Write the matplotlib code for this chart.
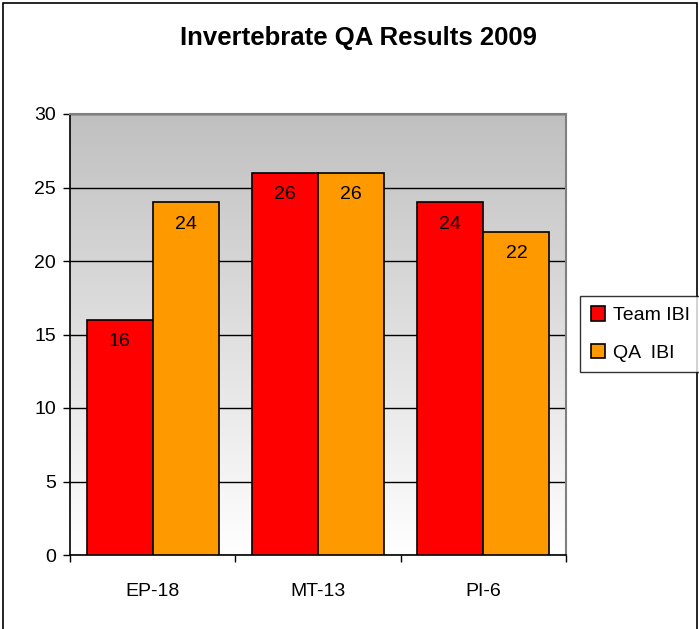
import numpy as np
import matplotlib.pyplot as plt
from matplotlib.colors import LinearSegmentedColormap
from matplotlib.patches import Rectangle

plt.rcParams['font.family'] = ['Liberation Sans', 'DejaVu Sans']

sites = ['EP-18', 'MT-13', 'PI-6']
team_ibi = [16, 26, 24]
qa_ibi = [24, 26, 22]
series_names = ['Team IBI', 'QA  IBI']
colors = ['#ff0000', '#ff9900']

fig = plt.figure(figsize=(6.99, 6.29), dpi=100)
ax = fig.add_axes([70 / 699, 74 / 629, 496 / 699, 441 / 629])

# gradient plot background
grad = LinearSegmentedColormap.from_list('bg', ['#ffffff', '#c0c0c0'])
ax.imshow(np.linspace(0, 1, 256).reshape(-1, 1), cmap=grad, aspect='auto',
          extent=[-0.5, 2.5, 0, 30], origin='lower', zorder=0)

x = np.arange(len(sites))
w = 0.4
b1 = ax.bar(x - w / 2, team_ibi, w, color=colors[0], edgecolor='black',
            linewidth=1.2, label=series_names[0], zorder=3)
b2 = ax.bar(x + w / 2, qa_ibi, w, color=colors[1], edgecolor='black',
            linewidth=1.2, label=series_names[1], zorder=3)

for bars, vals in [(b1, team_ibi), (b2, qa_ibi)]:
    for r, v in zip(bars, vals):
        ax.text(r.get_x() + r.get_width() / 2, v - 1.5, str(v), ha='center',
                va='center', fontsize=14, zorder=4)

ax.set_xlim(-0.5, 2.5)
ax.set_ylim(0, 30)
ax.set_yticks(range(0, 31, 5))
ax.yaxis.grid(True, color='black', linewidth=1)
ax.set_axisbelow(True)
ax.set_xticks(x)
ax.set_xticklabels(sites)
ax.set_xticks([-0.5, 0.5, 1.5, 2.5], minor=True)
ax.tick_params(axis='x', which='major', length=0, pad=20, labelsize=14)
ax.tick_params(axis='x', which='minor', length=5, width=1, direction='out')
ax.tick_params(axis='y', length=5, width=1, direction='out', pad=5, labelsize=14)
for s in ['left', 'bottom']:
    ax.spines[s].set_color('black')
    ax.spines[s].set_linewidth(1.2)
for s in ['top', 'right']:
    ax.spines[s].set_color('#808080')
    ax.spines[s].set_linewidth(1.5)

fig.text(358 / 699, 1 - 38 / 629, 'Invertebrate QA Results 2009', ha='center',
         va='center', fontsize=18.5, fontweight='bold')

leg = fig.legend(handles=[b1, b2], loc='center left',
                 bbox_to_anchor=(580 / 699, 1 - 334 / 629), fontsize=14,
                 frameon=True, fancybox=False, edgecolor='black',
                 handlelength=0.75, handleheight=0.75, handletextpad=0.4,
                 borderpad=0.55, labelspacing=1.0, borderaxespad=0)
leg.get_frame().set_linewidth(1)

fig.patches.append(Rectangle((3 / 699, -0.01), 1 - 5 / 699, 1 - 3 / 629 + 0.01,
                             transform=fig.transFigure, fill=False,
                             edgecolor='black', linewidth=1.2))

fig.savefig('out.png', dpi=100)
